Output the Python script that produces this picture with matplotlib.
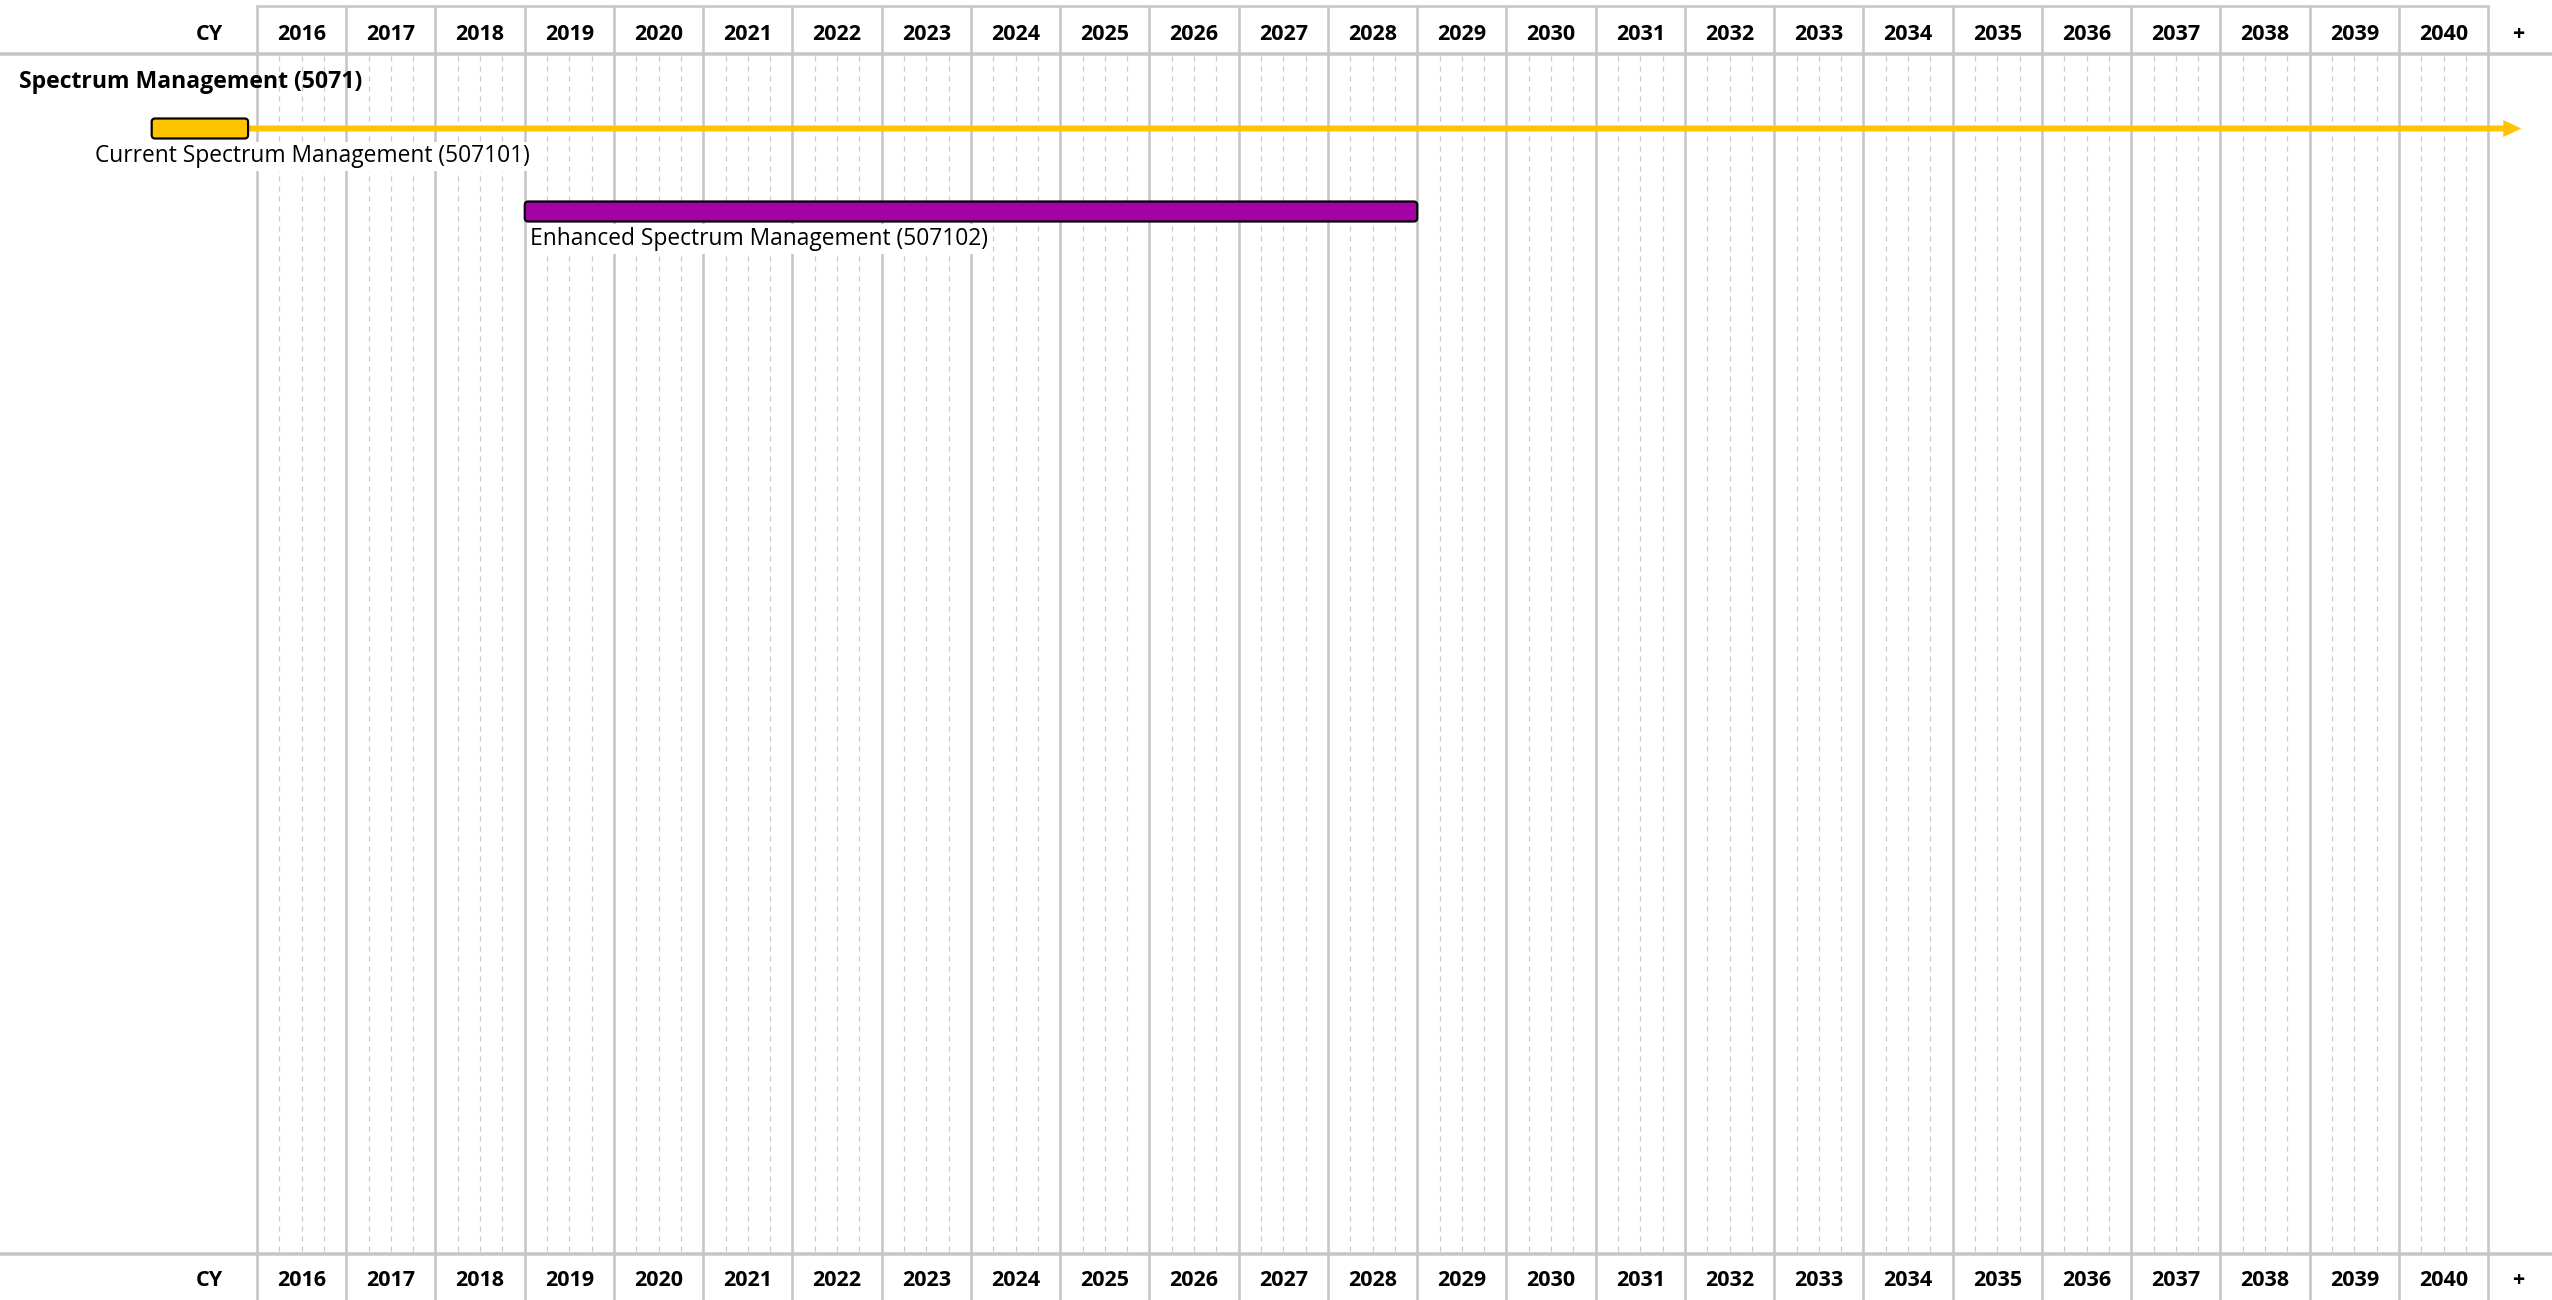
import matplotlib
matplotlib.use("Agg")
import matplotlib.pyplot as plt
from matplotlib.patches import FancyBboxPatch, FancyArrow

plt.rcParams['font.family'] = ['Open Sans', 'DejaVu Sans']
plt.rcParams['lines.scale_dashes'] = False

# ---------------- data ----------------
years = list(range(2016, 2041))            # calendar-year columns
axis_label = "CY"
more_label = "+"
group_title = "Spectrum Management (5071)"
task_names = ["Current Spectrum Management (507101)",
              "Enhanced Spectrum Management (507102)"]
task_starts = [2014.82, 2019.0]
task_ends = [2015.90, 2029.0]
task_colors = ["#FFC400", "#A400A4"]
ongoing_end = 2041.37                       # arrow for the ongoing (current) task
ongoing_flags = [True, False]

# ---------------- layout (pixels at 100 dpi) ----------------
W, H, DPI = 2552, 1300, 100
col_px = 89.25
x0_px = 257.0
def yr(px):
    return years[0] + (px - x0_px) / col_px

fig = plt.figure(figsize=(W / DPI, H / DPI), dpi=DPI)
ax = fig.add_axes([0, 0, 1, 1])
ax.set_xlim(yr(0), yr(W))
ax.set_ylim(H, 0)
ax.axis('off')

grid_c = "#c6c6c6"
dash_c = "#c8c8c8"
px2pt = 72.0 / DPI

first, last = years[0], years[-1] + 1
header_top, header_bot, footer_line = 6, 54, 1254
# solid year boundaries
for y in range(first, last + 1):
    ax.plot([y, y], [header_top, H], color=grid_c, lw=2.6 * px2pt, zorder=1,
            solid_capstyle='butt')
# dashed quarter lines
for y in years:
    for q in (0.25, 0.5, 0.75):
        ax.plot([y + q, y + q], [header_bot + 2, footer_line - 2], color=dash_c,
                lw=1.2 * px2pt, ls=(0, (3.6, 3.6)), zorder=1)
# header frame lines
ax.plot([first, last], [header_top, header_top], color=grid_c, lw=2.6 * px2pt,
        zorder=2, solid_capstyle='projecting')
ax.plot([yr(0), yr(W)], [header_bot, header_bot], color=grid_c, lw=3.5 * px2pt, zorder=2)
ax.plot([yr(0), yr(W)], [footer_line, footer_line], color=grid_c, lw=3.5 * px2pt, zorder=2)

# header / footer text
fs_head = 15.5
fs_body = 16.4
for base in (39.5, 1286.5):
    for y in years:
        ax.text(y + 0.5, base, str(y), ha='center', va='baseline', fontsize=fs_head,
                fontweight='bold', color='black', zorder=5)
    ax.text(yr(223), base, axis_label, ha='right', va='baseline', fontsize=fs_head,
            fontweight='bold', zorder=5)
    ax.text(yr(2518), base, more_label, ha='center', va='baseline', fontsize=fs_head,
            fontweight='bold', zorder=5)

# group title
ax.text(yr(19), 88.5, group_title, ha='left', va='baseline', fontsize=16.6,
        fontweight='bold', zorder=5)

# tasks
row_centers = [128.5, 211.5]
label_x = [yr(94.6), yr(530)]
label_base = [162.5, 245.0]
bar_h = 20
for name, s, e, c, rc, lx, lb, ongoing in zip(task_names, task_starts, task_ends,
                                              task_colors, row_centers, label_x,
                                              label_base, ongoing_flags):
    if ongoing:
        ax.add_patch(FancyArrow(e, rc, ongoing_end - e, 0, width=6,
                                head_width=17, head_length=18 / col_px,
                                length_includes_head=True, color=c, lw=0,
                                zorder=3))
    ax.add_patch(FancyBboxPatch((s, rc - bar_h / 2), e - s, bar_h,
                                boxstyle="round,pad=0,rounding_size=%f" % (3.5 / col_px),
                                mutation_aspect=col_px, facecolor=c,
                                edgecolor='black', lw=2.2 * px2pt, zorder=4))
    ax.text(lx, lb, name, ha='left', va='baseline', fontsize=fs_body, color='black',
            zorder=5, bbox=dict(facecolor='white', edgecolor='none', pad=2))

fig.savefig("out.png", dpi=DPI)
